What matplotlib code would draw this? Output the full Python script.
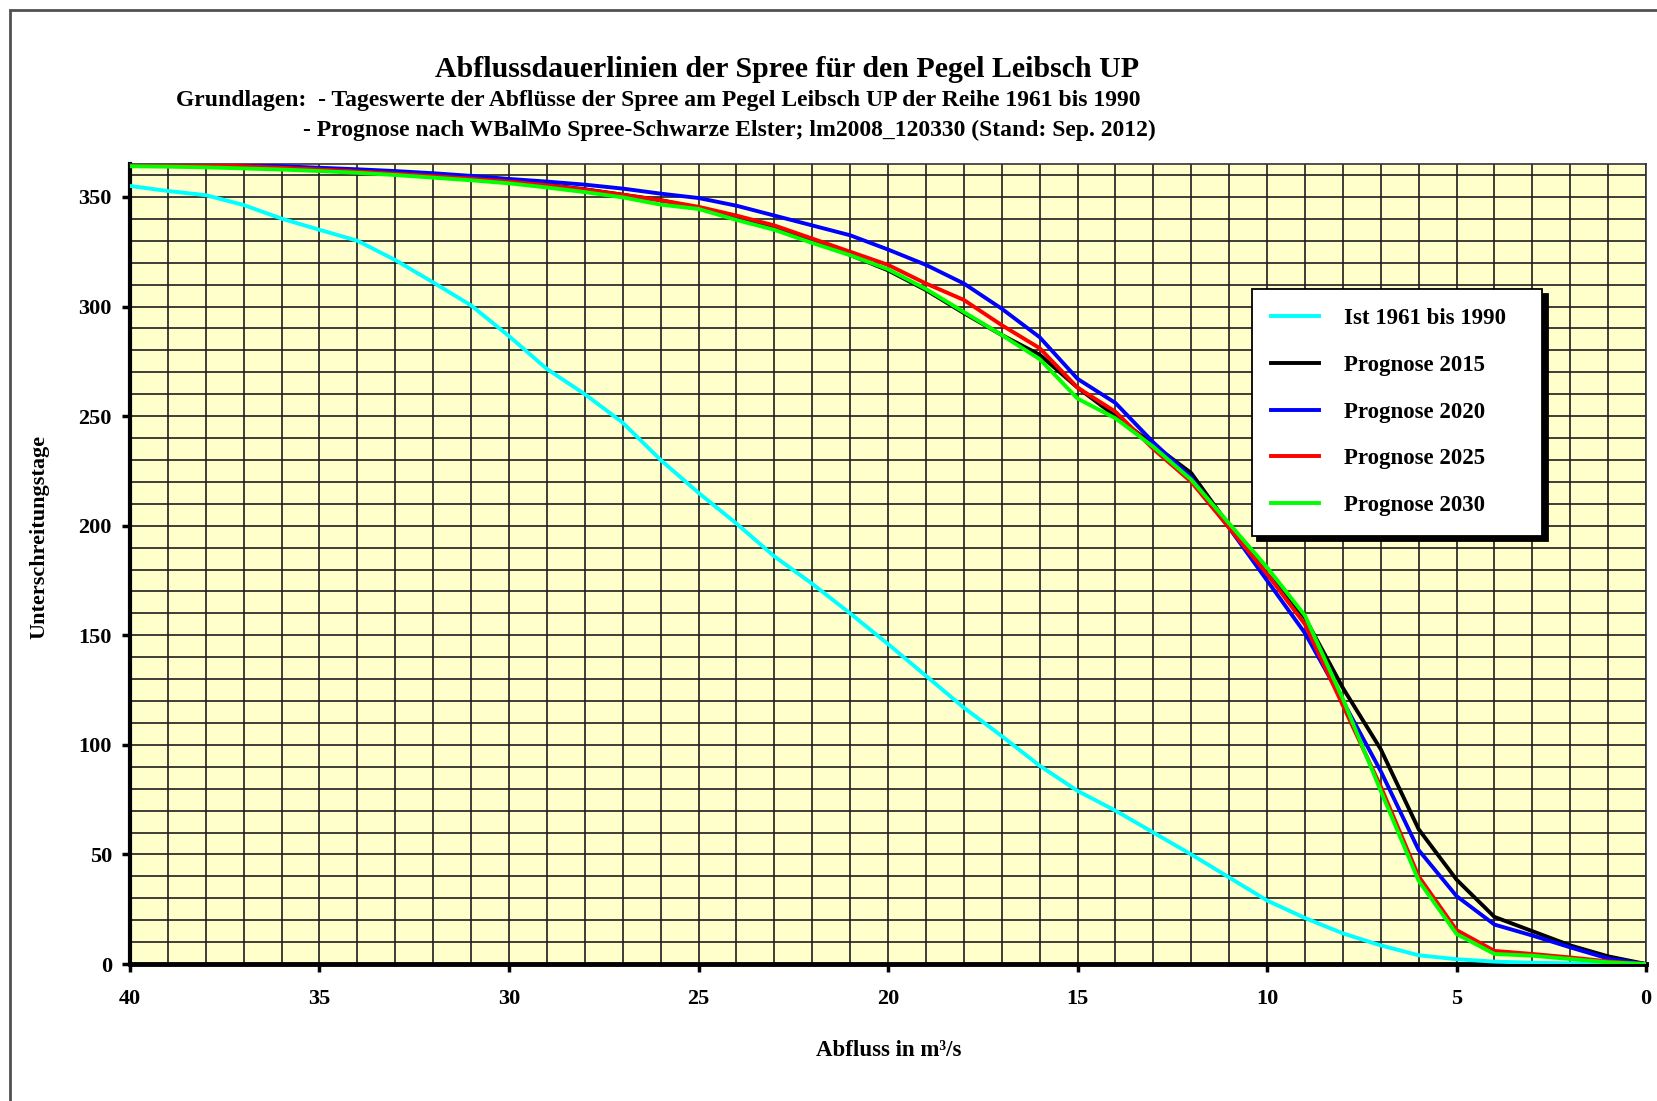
import matplotlib
matplotlib.use("Agg")
import matplotlib.pyplot as plt
from matplotlib.patches import Rectangle
from matplotlib.ticker import MultipleLocator

plt.rcParams['font.family'] = ['Liberation Serif', 'DejaVu Serif']
plt.rcParams['font.weight'] = 'bold'

# Abfluss in m³/s (40 ... 0)
abfluss = list(range(40, -1, -1))

ist_1961_1990 = [355, 352.7, 350.8, 346.3, 340.1, 335, 330, 321.2, 311, 300.5,
                 286.5, 271.5, 260, 247, 230, 215, 201, 186, 173.5, 160,
                 146, 131.5, 117, 104, 90.5, 79, 70, 60, 50, 39.5,
                 29, 21, 14, 8.5, 4, 2.2, 1.1, 0.6, 0.3, 0.1, 0]
prognose_2015 = [365, 364.8, 364.5, 364, 363.5, 362.5, 361.7, 360.8, 359.8, 358.6,
                 357.3, 355.5, 353.5, 351, 348.5, 345, 341, 336, 330.5, 323.5,
                 316.5, 307.5, 297, 287, 278, 263, 250, 237, 224, 200,
                 178, 158, 126, 98, 61.5, 38.5, 21.5, 15, 8.5, 3.5, 0]
prognose_2020 = [365, 365, 364.8, 364.5, 364, 363.3, 362.6, 361.8, 360.8, 359.6,
                 358.2, 357, 355.6, 353.8, 351.5, 349.5, 346, 341.5, 337, 332.5,
                 326, 319, 310.5, 299, 286, 267, 256, 238, 222, 199,
                 175, 151, 120, 88, 52, 31, 18, 13, 7.6, 2.5, 0]
prognose_2025 = [365, 364.8, 364.5, 364, 363.3, 362.5, 361.6, 360.6, 359.5, 358.3,
                 357, 355.3, 353.4, 351, 348.5, 345.5, 341.5, 337, 331, 325,
                 319, 310.5, 303, 291.5, 281, 263, 252, 235, 220, 199,
                 178, 155, 118, 81, 40, 15.5, 6, 4.6, 3, 1.2, 0]
prognose_2030 = [364, 363.8, 363.5, 363, 362.5, 361.8, 361, 360, 358.8, 357.6,
                 356.2, 354.3, 352.2, 349.8, 346.5, 344.5, 339.5, 335, 329, 323.4,
                 317, 308, 297.5, 287, 276, 258, 249, 236, 221, 201,
                 181, 159, 121, 79, 38, 13.7, 4.6, 3.8, 2.3, 0.8, 0]

labels = ['Ist 1961 bis 1990', 'Prognose 2015', 'Prognose 2020',
          'Prognose 2025', 'Prognose 2030']
colors = ['#00FFFF', '#000000', '#0000FF', '#FF0000', '#00FF00']
series = [ist_1961_1990, prognose_2015, prognose_2020, prognose_2025, prognose_2030]

fig = plt.figure(figsize=(16.58, 11.01), dpi=100)
ax = fig.add_axes([0.0784, 0.1244, 0.9144, 0.7266])
ax.set_facecolor('#FFFFCC')

for werte, farbe, name in zip(series, colors, labels):
    # Leerzeichen am Ende -> etwas breiterer Legendenrahmen
    ax.plot(abfluss, werte, color=farbe, lw=2.8, label=name + '   ', zorder=3)

ax.set_xlim(40, 0)
ax.set_ylim(0, 365)
ax.xaxis.set_major_locator(MultipleLocator(5))
ax.xaxis.set_minor_locator(MultipleLocator(1))
ax.yaxis.set_major_locator(MultipleLocator(50))
ax.yaxis.set_minor_locator(MultipleLocator(10))
ax.grid(which='both', color='#1e1e1e', lw=1.2, zorder=1)
ax.set_axisbelow(True)

ax.tick_params(which='major', direction='out', length=6, width=2.5, labelsize=16, color='black')
ax.tick_params(axis='x', which='major', pad=12)
ax.tick_params(axis='y', which='major', pad=7)
ax.tick_params(which='minor', length=0)
for lab in ax.get_xticklabels() + ax.get_yticklabels():
    lab.set_fontweight('bold')

ax.spines['left'].set_linewidth(3)
ax.spines['bottom'].set_linewidth(3.5)
ax.spines['top'].set_linewidth(1.2)
ax.spines['right'].set_linewidth(1.2)
ax.spines['top'].set_color('#333333')
ax.spines['right'].set_color('#333333')

leg = ax.legend(loc='upper left', bbox_to_anchor=(0.740, 0.844), fancybox=False,
                framealpha=1, edgecolor='black', labelspacing=1.12, handlelength=2.1,
                handletextpad=1.05, borderpad=0.85, borderaxespad=0,
                prop={'size': 16.5, 'weight': 'bold'},
                shadow={'ox': 4, 'oy': -4, 'color': 'black', 'alpha': 1})
leg.get_frame().set_linewidth(1.3)
leg.set_zorder(5)

fig.text(0.475, 0.937, 'Abflussdauerlinien der Spree für den Pegel Leibsch UP',
         ha='center', va='center', fontsize=21.5, fontweight='bold')
fig.text(0.106, 0.909, 'Grundlagen:  - Tageswerte der Abflüsse der Spree am Pegel Leibsch UP der Reihe 1961 bis 1990',
         ha='left', va='center', fontsize=17, fontweight='bold')
fig.text(0.183, 0.882, '- Prognose nach WBalMo Spree-Schwarze Elster; lm2008_120330 (Stand: Sep. 2012)',
         ha='left', va='center', fontsize=17, fontweight='bold')

fig.text(0.024, 0.512, 'Unterschreitungstage', rotation=90, ha='center', va='center',
         fontsize=16, fontweight='bold')
fig.text(0.536, 0.046, 'Abfluss in m³/s', ha='center', va='center',
         fontsize=16.5, fontweight='bold')

# Rahmen um das ganze Bild
fig.patches.append(Rectangle((10 / 1658, -0.05), 1.1, 1.05 - 10 / 1101,
                             transform=fig.transFigure, fill=False,
                             edgecolor='#505050', lw=2))

fig.savefig('out.png', dpi=100, facecolor='white')
